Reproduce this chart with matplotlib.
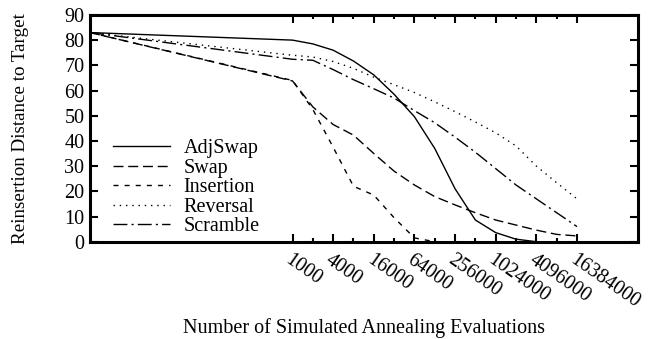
import matplotlib
matplotlib.use("Agg")
import matplotlib.pyplot as plt
import numpy as np

# Evaluations (log2 axis), first point is the start state
evals = [1, 1000, 2000, 4000, 8000, 16000, 32000, 64000, 128000, 256000,
         512000, 1024000, 2048000, 4096000, 8192000, 16384000]

adjswap = [83, 80, 78.5, 76, 71.7, 66.2, 58.5, 49.6, 37, 21, 8.6, 3.6, 1.0, 0, 0, 0]
swap = [83, 63.8, 53.5, 46.5, 42.3, 35, 28, 22.5, 17.9, 14.6, 11.5, 8.6, 6.6, 4.6, 2.9, 2.3]
insertion = [83, 64, 52.5, 37.5, 22, 18.5, 9.5, 1.5, 0, 0, 0, 0, 0, 0, 0, 0]
reversal = [83, 74, 73.3, 71.5, 68.8, 65.3, 62.3, 59.2, 55.5, 51.6, 47.5, 43.2, 38, 30, 23.4, 17]
scramble = [83, 72.4, 72, 68.3, 64.3, 60.7, 57, 52, 47.2, 41.5, 35.5, 29, 22.5, 17, 11.5, 6]

major_ticks = [1000, 4000, 16000, 64000, 256000, 1024000, 4096000, 16384000]
minor_ticks = [2000, 8000, 32000, 128000, 512000, 2048000, 8192000]

plt.rcParams["font.family"] = ["Liberation Serif", "DejaVu Serif"]
plt.rcParams["font.size"] = 14.5

fig = plt.figure(figsize=(6.52, 3.39), dpi=100)
ax = fig.add_axes([0.138, 0.287, 0.9785 - 0.138, 0.956 - 0.287])

ax.plot(evals, adjswap, color="black", lw=1.0, linestyle="-", label="AdjSwap")
ax.plot(evals, swap, color="black", lw=1.0, linestyle=(0, (7.2, 3.4)), label="Swap")
ax.plot(evals, insertion, color="black", lw=1.0, linestyle=(0, (3.6, 4.4)), label="Insertion")
ax.plot(evals, reversal, color="black", lw=1.0, linestyle=(0, (1.0, 3.5)), label="Reversal")
ax.plot(evals, scramble, color="black", lw=1.0, linestyle=(0, (10, 3, 1.5, 3)), label="Scramble")

ax.set_xscale("log", base=2)
ax.set_xlim(1, 131072000)
ax.set_ylim(0, 90)

ax.set_xticks(major_ticks)
ax.set_xticklabels([str(t) for t in major_ticks], rotation=-35,
                   ha="left", va="top", rotation_mode="anchor")
ax.set_xticks(minor_ticks, minor=True)
ax.set_xticklabels([], minor=True)
ax.set_yticks(np.arange(0, 91, 10))

ax.tick_params(which="both", direction="in", top=True, right=True, width=1.5)
ax.tick_params(which="major", length=6)
ax.tick_params(which="minor", length=3)
ax.tick_params(axis="x", which="major", pad=6)
ax.tick_params(axis="y", pad=4)
for s in ax.spines.values():
    s.set_linewidth(2.2)
    s.set_zorder(5)

ax.set_xlabel("Number of Simulated Annealing Evaluations")
ax.xaxis.set_label_coords(0.5, -0.335)
ax.set_ylabel("Reinsertion Distance to Target", fontsize=13.7)
ax.yaxis.set_label_coords(-0.112, 0.5)

ax.legend(loc="upper left", bbox_to_anchor=(0.027, 0.487), frameon=False,
          handlelength=2.85, handletextpad=0.65, labelspacing=0.02, borderaxespad=0)

fig.savefig("out.png", dpi=100)
